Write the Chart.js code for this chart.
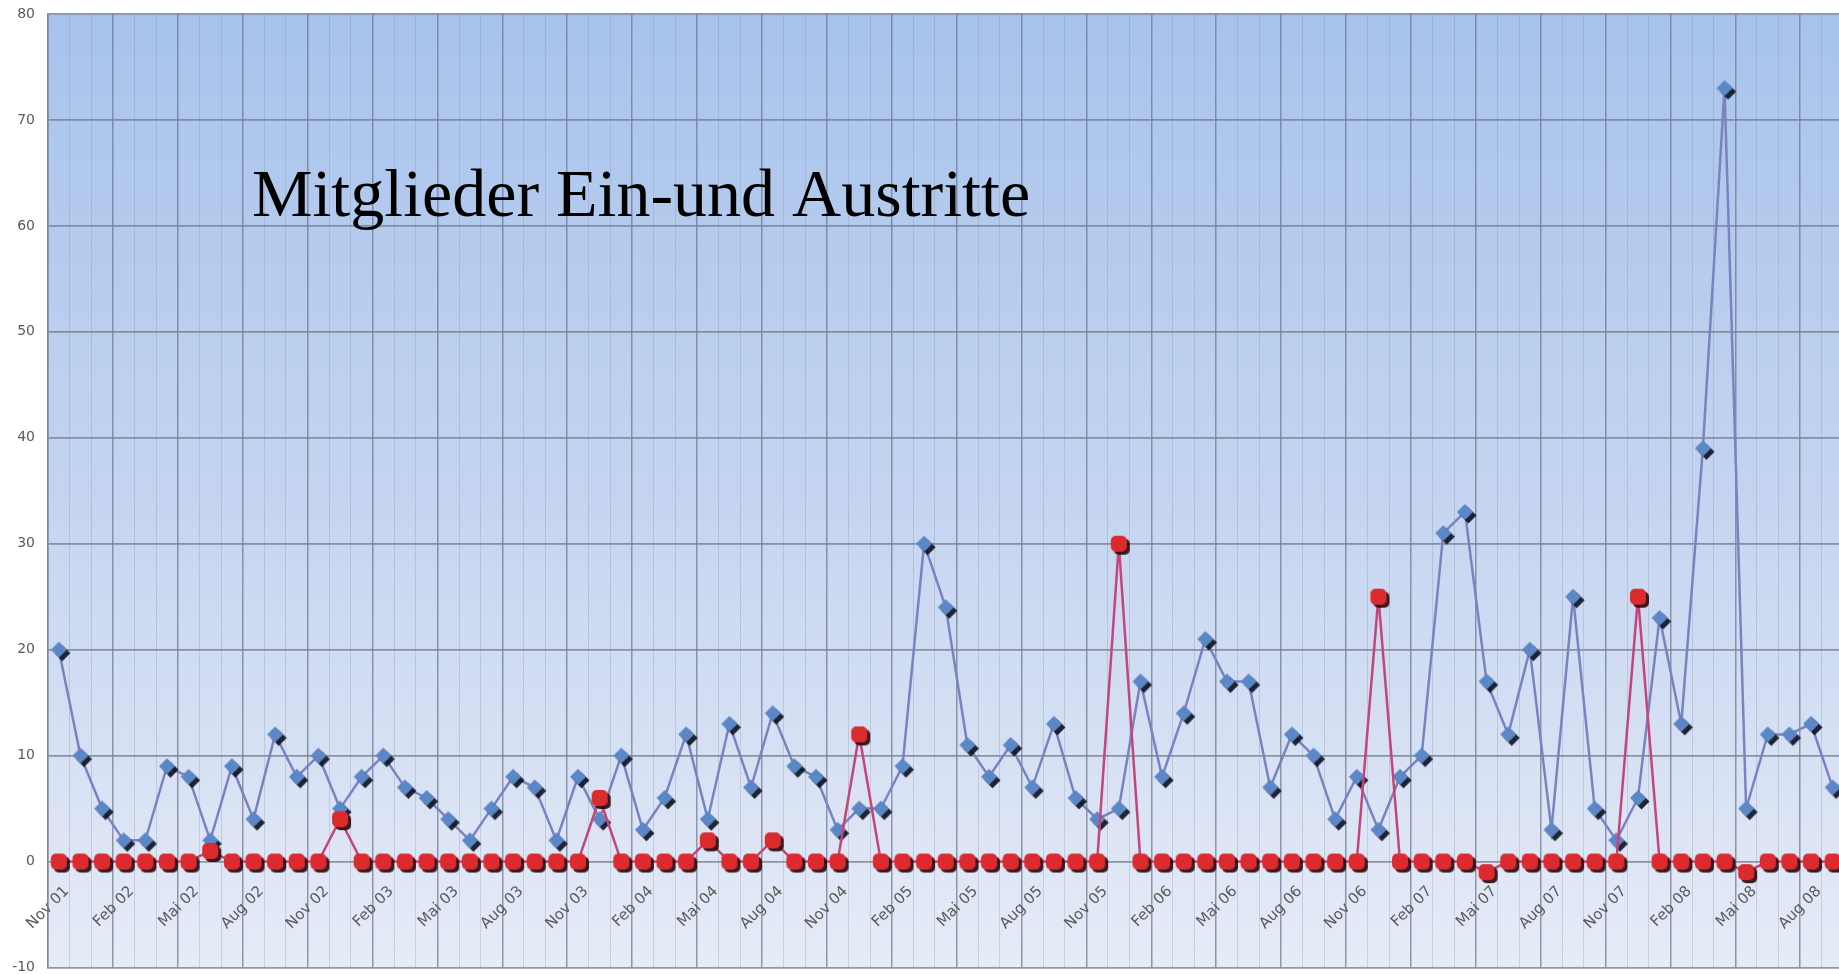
<!DOCTYPE html>
<html>
<head>
<meta charset="utf-8">
<title>Mitglieder Ein-und Austritte</title>
<script src="https://cdn.jsdelivr.net/npm/chart.js@4.4.1/dist/chart.umd.min.js"></script>
<style>
  html, body { margin: 0; padding: 0; background: #fff; overflow: hidden; }
  #wrap { width: 1839px; height: 974px; overflow: hidden; }
</style>
</head>
<body>
<div id="wrap"><canvas id="mitglieder" width="1854" height="978"></canvas></div>
<script>
// Monate (Kategorien)
const monate = [
  'Nov 01', 'Dez 01',
  'Jan 02', 'Feb 02', 'Mrz 02', 'Apr 02', 'Mai 02', 'Jun 02', 'Jul 02', 'Aug 02', 'Sep 02', 'Okt 02', 'Nov 02', 'Dez 02',
  'Jan 03', 'Feb 03', 'Mrz 03', 'Apr 03', 'Mai 03', 'Jun 03', 'Jul 03', 'Aug 03', 'Sep 03', 'Okt 03', 'Nov 03', 'Dez 03',
  'Jan 04', 'Feb 04', 'Mrz 04', 'Apr 04', 'Mai 04', 'Jun 04', 'Jul 04', 'Aug 04', 'Sep 04', 'Okt 04', 'Nov 04', 'Dez 04',
  'Jan 05', 'Feb 05', 'Mrz 05', 'Apr 05', 'Mai 05', 'Jun 05', 'Jul 05', 'Aug 05', 'Sep 05', 'Okt 05', 'Nov 05', 'Dez 05',
  'Jan 06', 'Feb 06', 'Mrz 06', 'Apr 06', 'Mai 06', 'Jun 06', 'Jul 06', 'Aug 06', 'Sep 06', 'Okt 06', 'Nov 06', 'Dez 06',
  'Jan 07', 'Feb 07', 'Mrz 07', 'Apr 07', 'Mai 07', 'Jun 07', 'Jul 07', 'Aug 07', 'Sep 07', 'Okt 07', 'Nov 07', 'Dez 07',
  'Jan 08', 'Feb 08', 'Mrz 08', 'Apr 08', 'Mai 08', 'Jun 08', 'Jul 08', 'Aug 08', 'Sep 08'
];

// Eintritte (blaue Linie)
const eintritte = [
  20, 10,
  5, 2, 2, 9, 8, 2, 9, 4, 12, 8, 10, 5,
  8, 10, 7, 6, 4, 2, 5, 8, 7, 2, 8, 4,
  10, 3, 6, 12, 4, 13, 7, 14, 9, 8, 3, 5,
  5, 9, 30, 24, 11, 8, 11, 7, 13, 6, 4, 5,
  17, 8, 14, 21, 17, 17, 7, 12, 10, 4, 8, 3,
  8, 10, 31, 33, 17, 12, 20, 3, 25, 5, 2, 6,
  23, 13, 39, 73, 5, 12, 12, 13, 7
];

// Austritte (rote Linie)
const austritte = [
  0, 0,
  0, 0, 0, 0, 0, 1, 0, 0, 0, 0, 0, 4,
  0, 0, 0, 0, 0, 0, 0, 0, 0, 0, 0, 6,
  0, 0, 0, 0, 2, 0, 0, 2, 0, 0, 0, 12,
  0, 0, 0, 0, 0, 0, 0, 0, 0, 0, 0, 30,
  0, 0, 0, 0, 0, 0, 0, 0, 0, 0, 0, 25,
  0, 0, 0, 0, -1, 0, 0, 0, 0, 0, 0, 25,
  0, 0, 0, 0, -1, 0, 0, 0, 0
];

const titel = 'Mitglieder Ein-und Austritte';

// Marker mit dunklem Schatten nach rechts unten
function rautenMarker() {
  const c = document.createElement('canvas');
  c.width = 28; c.height = 28;
  const g = c.getContext('2d');
  const r = 8;
  function raute(cx, cy) {
    g.beginPath();
    g.moveTo(cx, cy - r);
    g.lineTo(cx + r, cy);
    g.lineTo(cx, cy + r);
    g.lineTo(cx - r, cy);
    g.closePath();
  }
  g.fillStyle = 'rgba(10,14,30,0.9)';
  raute(17.5, 17.5); g.fill();
  g.fillStyle = '#5c87c6';
  raute(14, 14); g.fill();
  return c;
}

function quadratMarker() {
  const c = document.createElement('canvas');
  c.width = 30; c.height = 30;
  const g = c.getContext('2d');
  function quad(x, y, s, rad) {
    g.beginPath();
    g.roundRect(x, y, s, s, rad);
  }
  g.fillStyle = 'rgba(40,6,8,0.9)';
  quad(10, 10, 16, 5); g.fill();
  g.fillStyle = '#dc2b2e';
  quad(7, 7, 16, 5); g.fill();
  return c;
}

// Abstaende der Achsen selbst festlegen
function ohneRand(s) {
  s.paddingLeft = 0;
  s.paddingRight = 0;
  s.paddingTop = 0;
  s.paddingBottom = 0;
}

const hintergrund = {
  id: 'hintergrund',
  beforeDraw(chart) {
    const { ctx, chartArea: a } = chart;
    ctx.save();
    ctx.fillStyle = '#ffffff';
    ctx.fillRect(0, 0, chart.width, chart.height);
    const grad = ctx.createLinearGradient(0, a.top, 0, a.bottom);
    grad.addColorStop(0, '#a7c3ec');
    grad.addColorStop(0.5, '#c4d4f0');
    grad.addColorStop(1, '#e6ebf7');
    ctx.fillStyle = grad;
    ctx.fillRect(a.left, a.top, a.right - a.left, a.bottom - a.top);
    ctx.restore();
  }
};

const titelText = {
  id: 'titelText',
  afterDraw(chart) {
    const ctx = chart.ctx;
    ctx.save();
    ctx.font = '68px "Liberation Serif", "DejaVu Serif", serif';
    ctx.fillStyle = '#000000';
    ctx.textBaseline = 'alphabetic';
    ctx.textAlign = 'left';
    ctx.fillText(titel, 252, 216);
    ctx.restore();
  }
};

const ctx = document.getElementById('mitglieder').getContext('2d');
const chart = new Chart(ctx, {
  type: 'line',
  data: {
    labels: monate,
    datasets: [{
      label: 'Eintritte',
      data: eintritte,
      borderColor: '#7a83c0',
      borderWidth: 2.5,
      pointStyle: rautenMarker(),
      pointRadius: 8,
      tension: 0,
      order: 1
    },
    {
      label: 'Austritte',
      data: austritte,
      borderColor: '#c4457a',
      borderWidth: 2.5,
      pointStyle: quadratMarker(),
      pointRadius: 8,
      tension: 0,
      order: 0
    }]
  },
  options: {
    responsive: false,
    animation: false,
    events: [],
    layout: { padding: { top: 14, right: 0, bottom: 2, left: 0 } },
    plugins: {
      legend: { display: false },
      tooltip: { enabled: false }
    },
    scales: {
      x: {
        type: 'category',
        position: { y: 0 },
        offset: true,
        afterFit: (s) => { s.height = 0; ohneRand(s); },
        grid: {
          offset: true,
          drawTicks: false,
          color: (c) => c.index % 3 === 0 ? 'rgba(105,115,140,0.7)' : 'rgba(125,135,160,0.28)',
          lineWidth: (c) => c.index % 3 === 0 ? 1.5 : 1
        },
        border: { display: false },
        ticks: {
          autoSkip: false,
          maxRotation: 45,
          minRotation: 45,
          padding: 21,
          labelOffset: 8,
          color: '#5a5a5a',
          font: { family: 'DejaVu Sans', size: 15 },
          callback: function (v, i) { return i % 3 === 0 ? this.getLabelForValue(v) : ''; }
        }
      },
      y: {
        min: -10,
        max: 80,
        afterFit: (s) => { s.width = 48; ohneRand(s); },
        grid: {
          drawTicks: false,
          color: 'rgba(120,126,140,0.8)',
          lineWidth: 1.8
        },
        border: { display: true, color: 'rgba(120,126,140,0.8)', width: 1.5 },
        ticks: {
          stepSize: 10,
          padding: 13,
          color: '#5a5a5a',
          font: { family: 'DejaVu Sans', size: 14 }
        }
      }
    }
  },
  plugins: [hintergrund, titelText]
});
</script>
</body>
</html>
